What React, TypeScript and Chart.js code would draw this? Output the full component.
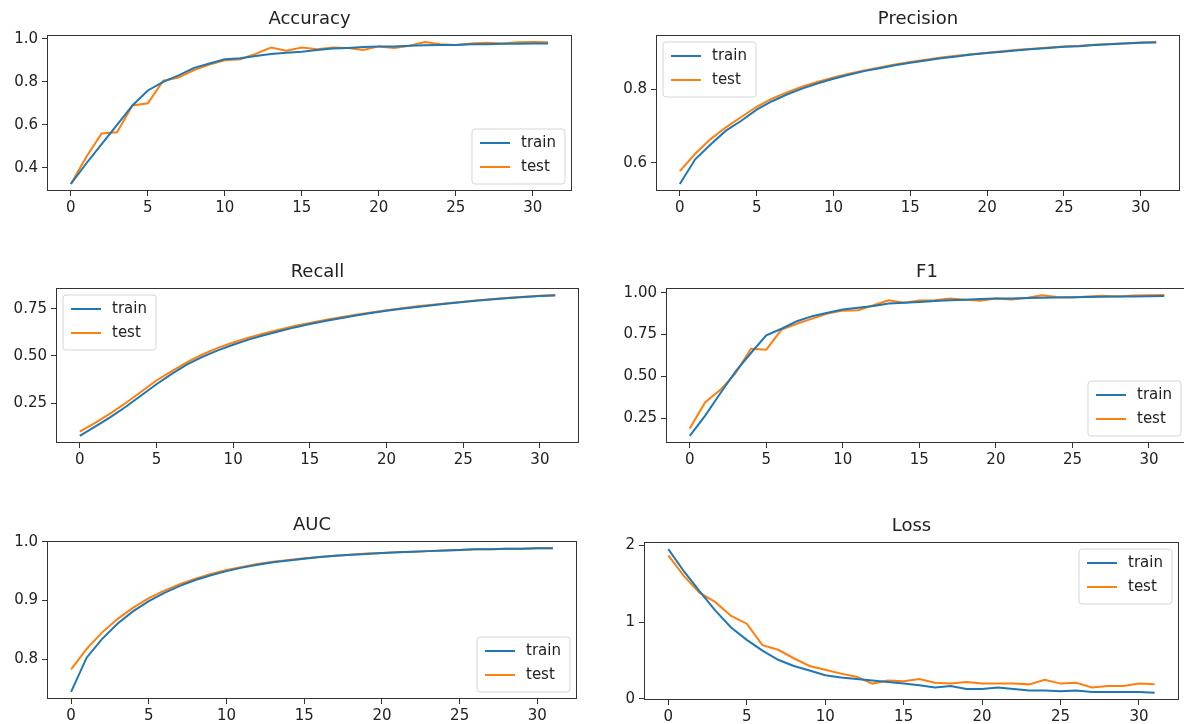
import React, { useEffect, useRef } from 'react';
import { Chart, registerables } from 'chart.js';

Chart.register(...registerables);

const FONT = "'DejaVu Sans', sans-serif";

// ---------- data ----------
const epochs = [0, 1, 2, 3, 4, 5, 6, 7, 8, 9, 10, 11, 12, 13, 14, 15, 16, 17, 18, 19, 20, 21, 22, 23, 24, 25, 26, 27, 28, 29, 30, 31];
const xTickValues = [0, 5, 10, 15, 20, 25, 30];

const accuracyTrain = [0.325, 0.42, 0.51, 0.60, 0.69, 0.76, 0.80, 0.83, 0.865, 0.885, 0.905, 0.91, 0.92, 0.93, 0.935, 0.94, 0.948, 0.955, 0.958, 0.962, 0.965, 0.965, 0.968, 0.97, 0.972, 0.972, 0.975, 0.975, 0.977, 0.977, 0.978, 0.978];
const accuracyTest = [0.325, 0.45, 0.56, 0.565, 0.69, 0.70, 0.805, 0.82, 0.855, 0.88, 0.90, 0.905, 0.93, 0.96, 0.945, 0.96, 0.952, 0.96, 0.958, 0.948, 0.965, 0.958, 0.968, 0.985, 0.975, 0.972, 0.978, 0.982, 0.978, 0.984, 0.985, 0.984];

const precisionTrain = [0.543, 0.61, 0.65, 0.688, 0.715, 0.745, 0.768, 0.787, 0.803, 0.817, 0.829, 0.84, 0.85, 0.858, 0.866, 0.873, 0.879, 0.885, 0.89, 0.895, 0.899, 0.903, 0.907, 0.91, 0.913, 0.916, 0.918, 0.921, 0.923, 0.925, 0.927, 0.928];
const precisionTest = [0.578, 0.625, 0.665, 0.697, 0.725, 0.753, 0.775, 0.793, 0.808, 0.821, 0.833, 0.843, 0.852, 0.86, 0.868, 0.875, 0.881, 0.887, 0.892, 0.896, 0.9, 0.904, 0.908, 0.911, 0.914, 0.917, 0.919, 0.922, 0.924, 0.926, 0.928, 0.929];

const recallTrain = [0.075, 0.125, 0.175, 0.23, 0.29, 0.35, 0.405, 0.455, 0.495, 0.53, 0.56, 0.587, 0.61, 0.632, 0.652, 0.67, 0.686, 0.701, 0.715, 0.728, 0.74, 0.751, 0.761, 0.77, 0.779, 0.787, 0.795, 0.802, 0.808, 0.814, 0.819, 0.822];
const recallTest = [0.098, 0.145, 0.195, 0.25, 0.31, 0.37, 0.42, 0.468, 0.508, 0.543, 0.572, 0.597, 0.62, 0.64, 0.659, 0.676, 0.692, 0.706, 0.719, 0.731, 0.743, 0.754, 0.764, 0.773, 0.781, 0.789, 0.797, 0.803, 0.809, 0.815, 0.82, 0.824];

const f1Train = [0.145, 0.265, 0.40, 0.53, 0.64, 0.745, 0.785, 0.83, 0.86, 0.88, 0.9, 0.91, 0.92, 0.935, 0.94, 0.945, 0.95, 0.955, 0.958, 0.962, 0.965, 0.966, 0.968, 0.97, 0.972, 0.973, 0.975, 0.976, 0.977, 0.978, 0.979, 0.98];
const f1Test = [0.19, 0.345, 0.42, 0.52, 0.665, 0.66, 0.78, 0.815, 0.845, 0.875, 0.893, 0.895, 0.925, 0.955, 0.94, 0.953, 0.955, 0.965, 0.958, 0.952, 0.965, 0.96, 0.968, 0.985, 0.975, 0.972, 0.978, 0.982, 0.978, 0.984, 0.985, 0.986];

const aucTrain = [0.745, 0.803, 0.835, 0.861, 0.882, 0.899, 0.913, 0.925, 0.935, 0.943, 0.95, 0.956, 0.961, 0.965, 0.968, 0.971, 0.974, 0.976, 0.978, 0.979, 0.981, 0.982, 0.983, 0.984, 0.985, 0.986, 0.987, 0.987, 0.988, 0.988, 0.989, 0.989];
const aucTest = [0.783, 0.818, 0.846, 0.869, 0.888, 0.904, 0.917, 0.928, 0.937, 0.945, 0.952, 0.957, 0.962, 0.966, 0.969, 0.972, 0.974, 0.976, 0.978, 0.98, 0.981, 0.982, 0.983, 0.984, 0.985, 0.986, 0.987, 0.987, 0.988, 0.988, 0.989, 0.989];

const lossTrain = [1.95, 1.66, 1.40, 1.15, 0.93, 0.77, 0.63, 0.51, 0.43, 0.37, 0.31, 0.28, 0.26, 0.24, 0.22, 0.20, 0.18, 0.15, 0.17, 0.13, 0.13, 0.15, 0.13, 0.11, 0.11, 0.10, 0.11, 0.09, 0.09, 0.09, 0.09, 0.08];
const lossTest = [1.87, 1.60, 1.38, 1.26, 1.08, 0.98, 0.70, 0.64, 0.53, 0.43, 0.38, 0.33, 0.29, 0.20, 0.24, 0.23, 0.26, 0.21, 0.20, 0.22, 0.20, 0.20, 0.20, 0.19, 0.25, 0.20, 0.21, 0.15, 0.17, 0.17, 0.20, 0.19];

const accuracyTicks = [0.4, 0.6, 0.8, 1.0];
const precisionTicks = [0.6, 0.8];
const recallTicks = [0.25, 0.5, 0.75];
const f1Ticks = [0.25, 0.5, 0.75, 1.0];
const aucTicks = [0.8, 0.9, 1.0];
const lossTicks = [0, 1, 2];

const seriesLabels = ['train', 'test'];
const seriesColors = ['#1f77b4', '#ff7f0e'];

// ---------- layout ----------
type Box = { l: number; t: number; r: number; b: number };
type PanelCfg = {
  title: string;
  train: number[];
  test: number[];
  yTicks: number[];
  decimals: number;
  loc: string;
  box: Box;
};

const panels: PanelCfg[] = [
  { title: 'Accuracy', train: accuracyTrain, test: accuracyTest, yTicks: accuracyTicks, decimals: 1, loc: 'lower right', box: { l: 47, t: 35, r: 572, b: 191 } },
  { title: 'Precision', train: precisionTrain, test: precisionTest, yTicks: precisionTicks, decimals: 1, loc: 'upper left', box: { l: 656, t: 35, r: 1180, b: 191 } },
  { title: 'Recall', train: recallTrain, test: recallTest, yTicks: recallTicks, decimals: 2, loc: 'upper left', box: { l: 56, t: 288, r: 579, b: 443 } },
  { title: 'F1', train: f1Train, test: f1Test, yTicks: f1Ticks, decimals: 2, loc: 'lower right', box: { l: 666, t: 288, r: 1188, b: 443 } },
  { title: 'AUC', train: aucTrain, test: aucTest, yTicks: aucTicks, decimals: 1, loc: 'lower right', box: { l: 47, t: 541, r: 577, b: 699 } },
  { title: 'Loss', train: lossTrain, test: lossTest, yTicks: lossTicks, decimals: 0, loc: 'upper right', box: { l: 644, t: 542, r: 1179, b: 700 } },
];

const PADL = 56;
const PADT = 30;
const PADB = 30;
const PADR = 10;

const framePlugin = {
  id: 'frame',
  afterDatasetsDraw(chart: any) {
    const { ctx, chartArea: a } = chart;
    ctx.save();
    ctx.strokeStyle = '#333333';
    ctx.lineWidth = 1;
    ctx.strokeRect(Math.round(a.left) + 0.5, Math.round(a.top) + 0.5, Math.round(a.right - a.left) - 1, Math.round(a.bottom - a.top) - 1);
    ctx.restore();
  },
};

const axesTitlePlugin = {
  id: 'axesTitle',
  afterDraw(chart: any, _args: any, opts: any) {
    const { ctx, chartArea: a } = chart;
    ctx.save();
    ctx.fillStyle = '#222222';
    ctx.font = `18px ${FONT}`;
    ctx.textAlign = 'center';
    ctx.textBaseline = 'middle';
    ctx.fillText(opts.text || '', (a.left + a.right) / 2, a.top - 16);
    ctx.restore();
  },
};

const mplLegendPlugin = {
  id: 'mplLegend',
  afterDraw(chart: any, _args: any, opts: any) {
    const { ctx, chartArea: a } = chart;
    const loc: string = opts.loc || 'upper right';
    const W = 93;
    const H = 55;
    const pad = 7;
    const x = loc.includes('right') ? a.right - pad - W : a.left + pad;
    const y = loc.includes('lower') ? a.bottom - pad - H : a.top + pad;
    ctx.save();
    const r = 3;
    ctx.beginPath();
    ctx.moveTo(x + r, y);
    ctx.lineTo(x + W - r, y);
    ctx.quadraticCurveTo(x + W, y, x + W, y + r);
    ctx.lineTo(x + W, y + H - r);
    ctx.quadraticCurveTo(x + W, y + H, x + W - r, y + H);
    ctx.lineTo(x + r, y + H);
    ctx.quadraticCurveTo(x, y + H, x, y + H - r);
    ctx.lineTo(x, y + r);
    ctx.quadraticCurveTo(x, y, x + r, y);
    ctx.closePath();
    ctx.globalAlpha = 0.8;
    ctx.fillStyle = '#ffffff';
    ctx.fill();
    ctx.strokeStyle = '#cccccc';
    ctx.lineWidth = 1;
    ctx.stroke();
    ctx.globalAlpha = 1;
    chart.data.datasets.forEach((ds: any, i: number) => {
      const cy = y + 14 + i * 24;
      ctx.strokeStyle = ds.borderColor;
      ctx.lineWidth = 2;
      ctx.beginPath();
      ctx.moveTo(x + 8, cy);
      ctx.lineTo(x + 38, cy);
      ctx.stroke();
      ctx.fillStyle = '#222222';
      ctx.font = `15px ${FONT}`;
      ctx.textBaseline = 'middle';
      ctx.textAlign = 'left';
      ctx.fillText(ds.label, x + 49, cy);
    });
    ctx.restore();
  },
};

function Panel({ cfg }: { cfg: PanelCfg }) {
  const ref = useRef<HTMLCanvasElement>(null);
  const w = cfg.box.r - cfg.box.l + PADL + PADR;
  const h = cfg.box.b - cfg.box.t + PADT + PADB;

  useEffect(() => {
    if (!ref.current) return;
    const all = cfg.train.concat(cfg.test);
    const dmin = Math.min(...all);
    const dmax = Math.max(...all);
    const span = dmax - dmin;
    const xmin = epochs[0];
    const xmax = epochs[epochs.length - 1];
    const xspan = xmax - xmin;
    const series = [cfg.train, cfg.test];
    const tickFont = { family: FONT, size: 15 };
    const chart = new Chart(ref.current, {
      type: 'line',
      data: {
        datasets: series.map((vals, k) => ({
          label: seriesLabels[k],
          data: vals.map((v, i) => ({ x: epochs[i], y: v })),
          borderColor: seriesColors[k],
          backgroundColor: seriesColors[k],
          borderWidth: 2,
          pointRadius: 0,
          tension: 0,
          fill: false,
        })),
      },
      options: {
        responsive: false,
        maintainAspectRatio: false,
        animation: false,
        devicePixelRatio: 1,
        events: [],
        layout: { padding: { left: 0, right: PADR, top: PADT, bottom: 0 } },
        plugins: {
          legend: { display: false },
          tooltip: { enabled: false },
          title: { display: false },
          axesTitle: { text: cfg.title },
          mplLegend: { loc: cfg.loc },
        } as any,
        scales: {
          x: {
            type: 'linear',
            min: xmin - 0.05 * xspan,
            max: xmax + 0.05 * xspan,
            afterBuildTicks: (s: any) => {
              s.ticks = xTickValues.map((v) => ({ value: v }));
            },
            afterFit: (s: any) => {
              s.height = PADB;
            },
            ticks: {
              color: '#222222',
              font: tickFont,
              padding: 3,
              maxRotation: 0,
              autoSkip: false,
              callback: (v: any) => String(v),
            },
            grid: { drawOnChartArea: false, drawTicks: true, tickLength: 5, color: '#333333', lineWidth: 1 },
            border: { display: false },
          },
          y: {
            type: 'linear',
            min: dmin - 0.05 * span,
            max: dmax + 0.05 * span,
            afterBuildTicks: (s: any) => {
              s.ticks = cfg.yTicks.map((v) => ({ value: v }));
            },
            afterFit: (s: any) => {
              s.width = PADL;
            },
            ticks: {
              color: '#222222',
              font: tickFont,
              padding: 4,
              autoSkip: false,
              callback: (v: any) => Number(v).toFixed(cfg.decimals),
            },
            grid: { drawOnChartArea: false, drawTicks: true, tickLength: 5, color: '#333333', lineWidth: 1 },
            border: { display: false },
          },
        },
      } as any,
      plugins: [framePlugin, axesTitlePlugin, mplLegendPlugin],
    });
    return () => chart.destroy();
  }, []);

  return (
    <div style={{ position: 'absolute', left: cfg.box.l - PADL, top: cfg.box.t - PADT, width: w, height: h }}>
      <canvas ref={ref} width={w} height={h} style={{ width: w, height: h, display: 'block' }} />
    </div>
  );
}

export default function App() {
  return (
    <div style={{ position: 'absolute', left: 0, top: 0, width: 1184, height: 724, overflow: 'hidden', background: '#ffffff' }}>
      {panels.map((p) => (
        <Panel key={p.title} cfg={p} />
      ))}
    </div>
  );
}
